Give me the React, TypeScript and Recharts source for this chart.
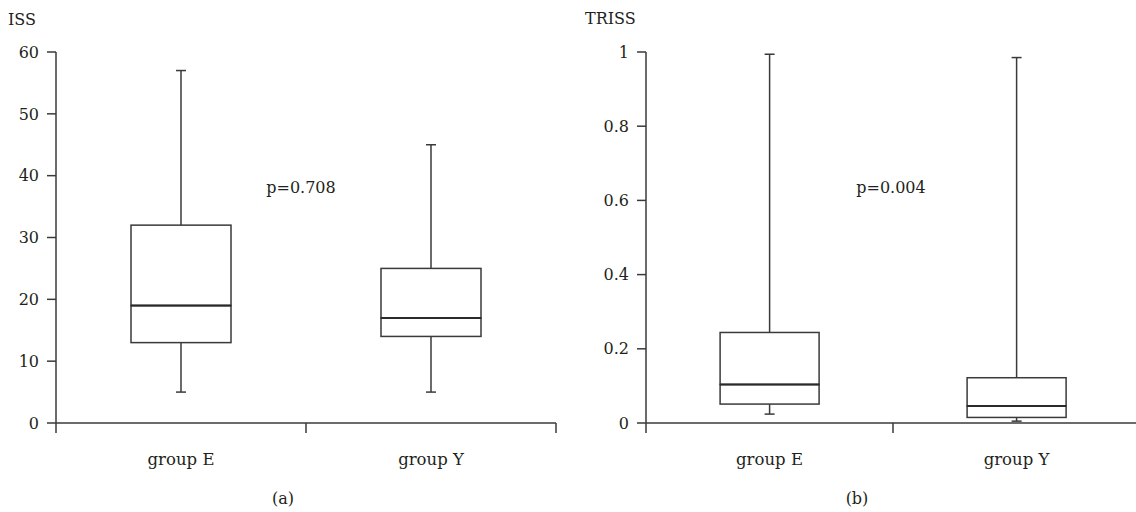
import { Bar, ComposedChart, XAxis, YAxis } from "recharts";

const categories = ["group E", "group Y"];

// ISS box plot (a)
const issMin = [5, 5];
const issQ1 = [13, 14];
const issMedian = [19, 17];
const issQ3 = [32, 25];
const issMax = [57, 45];
const issTicks = [0, 10, 20, 30, 40, 50, 60];

// TRISS box plot (b)
const trissMin = [0.024, 0.005];
const trissQ1 = [0.051, 0.015];
const trissMedian = [0.104, 0.046];
const trissQ3 = [0.244, 0.122];
const trissMax = [0.994, 0.985];
const trissTicks = [0, 0.2, 0.4, 0.6, 0.8, 1];

const INK = "#3a3a3a";
const TEXT = "#231f20";
const FONT = "DejaVu Serif";

function boxRows(min: number[], q1: number[], med: number[], q3: number[], max: number[]) {
    return categories.map((name, i) => ({
        name,
        base: min[i],
        lowWhisker: q1[i] - min[i],
        lowBox: med[i] - q1[i],
        highBox: q3[i] - med[i],
        highWhisker: max[i] - q3[i],
    }))
}

const issData = boxRows(issMin, issQ1, issMedian, issQ3, issMax)
const trissData = boxRows(trissMin, trissQ1, trissMedian, trissQ3, trissMax)

function LowWhisker(props: any) {
    const { x, y, width, height } = props
    const cx = x + width / 2
    const top = Math.min(y, y + height)
    const bottom = Math.max(y, y + height)
    return (
        <g>
            <line x1={cx} x2={cx} y1={top} y2={bottom} stroke={INK} strokeWidth={1.5} />
            <line x1={cx - 5} x2={cx + 5} y1={bottom} y2={bottom} stroke={INK} strokeWidth={1.5} />
        </g>
    )
}

function HighWhisker(props: any) {
    const { x, y, width, height } = props
    const cx = x + width / 2
    const top = Math.min(y, y + height)
    const bottom = Math.max(y, y + height)
    return (
        <g>
            <line x1={cx} x2={cx} y1={top} y2={bottom} stroke={INK} strokeWidth={1.5} />
            <line x1={cx - 5} x2={cx + 5} y1={top} y2={top} stroke={INK} strokeWidth={1.5} />
        </g>
    )
}

function LowBox(props: any) {
    const { x, y, width, height } = props
    const top = Math.min(y, y + height)
    return <rect x={x} y={top} width={width} height={Math.abs(height)} fill="#fff" stroke={INK} strokeWidth={1.5} />
}

function HighBox(props: any) {
    const { x, y, width, height } = props
    const top = Math.min(y, y + height)
    const bottom = Math.max(y, y + height)
    return (
        <g>
            <rect x={x} y={top} width={width} height={Math.abs(height)} fill="#fff" stroke={INK} strokeWidth={1.5} />
            <line x1={x} x2={x + width} y1={bottom} y2={bottom} stroke="#2a2a2a" strokeWidth={2} />
        </g>
    )
}

function GroupTick(props: any) {
    const { x, y, payload, index, band, count } = props
    return (
        <g>
            <line x1={x - band / 2} x2={x - band / 2} y1={y} y2={y + 10} stroke={INK} strokeWidth={1.5} />
            {index === count - 1 && (
                <line x1={x + band / 2} x2={x + band / 2} y1={y} y2={y + 10} stroke={INK} strokeWidth={1.5} />
            )}
            <text x={x} y={y + 42} textAnchor="middle" fill={TEXT} fontSize={16.5} fontFamily={FONT}>
                {payload.value}
            </text>
        </g>
    )
}

function BoxChart({ data, ticks, width, yWidth, right, plotWidth }: any) {
    const band = plotWidth / categories.length
    return (
        <ComposedChart
            width={width}
            height={512}
            data={data}
            margin={{ top: 52, right, bottom: 29, left: 0 }}
            barCategoryGap="30%"
        >
            <XAxis
                dataKey="name"
                height={60}
                interval={0}
                tickLine={false}
                tickSize={0}
                tickMargin={0}
                axisLine={{ stroke: INK, strokeWidth: 1.5 }}
                tick={(p: any) => <GroupTick {...p} band={band} count={categories.length} />}
            />
            <YAxis
                width={yWidth}
                domain={[0, ticks[ticks.length - 1]]}
                ticks={ticks}
                interval={0}
                tickSize={9}
                tickMargin={8}
                axisLine={{ stroke: INK, strokeWidth: 1.5 }}
                tickLine={{ stroke: INK, strokeWidth: 1.5 }}
                tick={{ fill: TEXT, fontSize: 16, fontFamily: FONT }}
            />
            <Bar dataKey="base" stackId="box" fill="transparent" isAnimationActive={false} />
            <Bar dataKey="lowWhisker" stackId="box" shape={LowWhisker} isAnimationActive={false} />
            <Bar dataKey="lowBox" stackId="box" shape={LowBox} isAnimationActive={false} />
            <Bar dataKey="highBox" stackId="box" shape={HighBox} isAnimationActive={false} />
            <Bar dataKey="highWhisker" stackId="box" shape={HighWhisker} isAnimationActive={false} />
        </ComposedChart>
    )
}

export default function App() {
    const textStyle = { fill: TEXT, fontSize: 16, fontFamily: FONT }
    return (
        <div style={{ position: "absolute", left: 0, top: 0, width: 1136, height: 512, overflow: "hidden", background: "#fff" }}>
            <div style={{ position: "absolute", left: 0, top: 0 }}>
                <BoxChart data={issData} ticks={issTicks} width={568} yWidth={56} right={12} plotWidth={500} />
            </div>
            <div style={{ position: "absolute", left: 568, top: 0 }}>
                <BoxChart data={trissData} ticks={trissTicks} width={572} yWidth={78} right={0} plotWidth={494} />
            </div>
            <svg width={1136} height={512} style={{ position: "absolute", left: 0, top: 0, pointerEvents: "none" }}>
                <text x={8} y={25} {...textStyle}>ISS</text>
                <text x={585} y={24} {...textStyle}>TRISS</text>
                <text x={301} y={193} textAnchor="middle" {...textStyle}>p=0.708</text>
                <text x={891} y={193} textAnchor="middle" {...textStyle}>p=0.004</text>
                <text x={283} y={504} textAnchor="middle" {...textStyle}>(a)</text>
                <text x={857} y={504} textAnchor="middle" {...textStyle}>(b)</text>
            </svg>
        </div>
    )
}
